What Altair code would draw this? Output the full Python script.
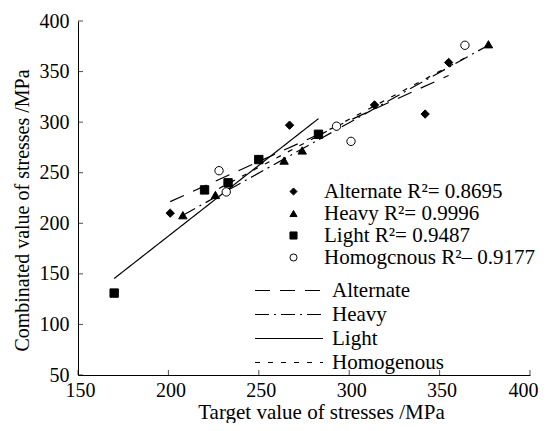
import altair as alt
import pandas as pd

series_names = ["Alternate", "Heavy", "Light", "Homogenous"]
alt_x = [201, 267, 314, 342, 355]
alt_y = [210, 297, 317, 308, 359]
heavy_x = [208, 226, 264, 274, 377]
heavy_y = [208, 228, 262, 272, 377]
light_x = [170, 220, 233, 250, 283]
light_y = [131, 233, 240, 263, 288]
homo_x = [228, 232, 293, 301, 364]
homo_y = [252, 231, 296, 281, 376]
point_labels = ["Alternate R²= 0.8695", "Heavy R²= 0.9996", "Light R²= 0.9487", "Homogcnous R²– 0.9177"]
line_labels = ["Alternate", "Heavy", "Light", "Homogenous"]
x_ticks = [150, 200, 250, 300, 350, 400]
y_ticks = [50, 100, 150, 200, 250, 300, 350, 400]

rows = []
for name, xs, ys, pl, ll in zip(series_names, [alt_x, heavy_x, light_x, homo_x],
                                [alt_y, heavy_y, light_y, homo_y], point_labels, line_labels):
    for xv, yv in zip(xs, ys):
        rows.append({"x": xv, "y": yv, "series": name, "plabel": pl, "llabel": ll})
df = pd.DataFrame(rows)

FONT = "Liberation Serif"
xscale = alt.Scale(domain=[150, 400], nice=False, zero=False)
yscale = alt.Scale(domain=[50, 400], nice=False, zero=False)
xaxis = alt.Axis(values=x_ticks, title="Target value of stresses /MPa", grid=False, tickSize=0,
                 labelPadding=5, titlePadding=1, domainColor="black", labelColor="black",
                 titleColor="black", labelFont=FONT, titleFont=FONT, labelFontSize=20,
                 titleFontSize=21, titleFontWeight="normal", labelFlush=False, titleX=243,
                 labelOffset={"condition": {"test": "datum.value >= 400", "value": -7}, "value": 2})
yaxis = alt.Axis(values=y_ticks, title="Combinated value of stresses /MPa", grid=False, tickSize=0,
                 labelPadding=9, titlePadding=7, domainColor="black", labelColor="black",
                 titleColor="black", labelFont=FONT, titleFont=FONT, labelFontSize=20,
                 titleFontSize=20, titleFontWeight="normal", labelFlush=False, titleY=189)


def X(f):
    return alt.X(f, type="quantitative", scale=xscale, axis=xaxis)


def Y(f):
    return alt.Y(f, type="quantitative", scale=yscale, axis=yaxis)


pt_legend = alt.Legend(title=None, orient="none", legendX=205, legendY=160, padding=0,
                       rowPadding=0, labelFont=FONT, labelFontSize=21, labelColor="black",
                       symbolSize=50, labelOffset=20, labelLimit=400, symbolStrokeWidth=1)
ln_legend = alt.Legend(title=None, orient="none", legendX=172, legendY=259, padding=0,
                       rowPadding=2, labelFont=FONT, labelFontSize=21, labelColor="black",
                       symbolType="M-1.1,0H12.5", symbolSize=100,
                       symbolStrokeWidth=1.2, labelOffset=61, labelLimit=400)

points = alt.Chart(df).mark_point(filled=False, size=70, color="black", strokeWidth=1, opacity=1).encode(
    x=X("x"), y=Y("y"),
    shape=alt.Shape("plabel:N", scale=alt.Scale(domain=point_labels,
                    range=["diamond", "triangle-up", "square", "circle"]), legend=pt_legend),
    fill=alt.Fill("plabel:N", scale=alt.Scale(domain=point_labels,
                  range=["black", "black", "black", "white"]), legend=pt_legend),
)

lines = alt.Chart(df).transform_regression("x", "y", groupby=["llabel"]).mark_line(
    color="black", strokeWidth=1.2).encode(
    x=X("x"), y=Y("y"),
    strokeDash=alt.StrokeDash("llabel:N", scale=alt.Scale(domain=line_labels,
                              range=[[15, 10], [14, 5, 2, 5], [1, 0], [5, 8]]), legend=ln_legend),
)

xt = pd.DataFrame({"tx": x_ticks, "ty": [y_ticks[0]] * len(x_ticks)})
yt = pd.DataFrame({"tx": [x_ticks[0]] * len(y_ticks), "ty": y_ticks})
xtick_layer = alt.Chart(xt).mark_tick(orient="vertical", size=5, yOffset=-2.5, color="black",
                                      thickness=1).encode(x=X("tx"), y=Y("ty"))
ytick_layer = alt.Chart(yt).mark_tick(orient="horizontal", size=5, xOffset=2.5, color="black",
                                      thickness=1).encode(x=X("tx"), y=Y("ty"))

chart = alt.layer(lines, points, xtick_layer, ytick_layer).properties(
    width=452, height=354,
    autosize=alt.AutoSizeParams(type="none"),
    padding={"left": 70, "top": 13, "right": 12, "bottom": 48},
    background="white",
).configure_view(stroke=None).configure_axis(
    labelFont=FONT, titleFont=FONT, labelColor="black", titleColor="black"
).configure_legend(
    labelFont=FONT
)

chart.save("out.html", embed_options={"renderer": "svg", "actions": False})
